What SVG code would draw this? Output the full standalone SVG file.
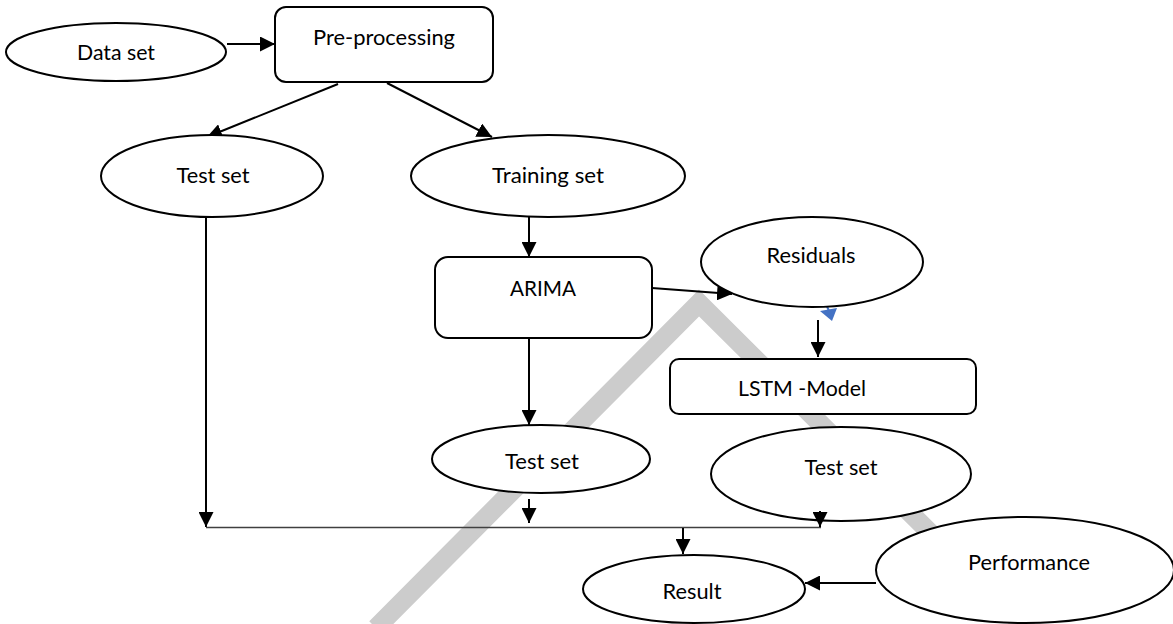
<svg xmlns="http://www.w3.org/2000/svg" width="1173" height="624" viewBox="0 0 1173 624">
<style>
.n{fill:#fff;stroke:#000;stroke-width:2}
.t{font-family:Lato,"Open Sans","Liberation Sans",sans-serif;font-size:22px;fill:#000;text-anchor:middle}
.c{stroke:#000;stroke-width:2;fill:none;marker-end:url(#ah)}
</style>
<defs>
<marker id="ah" markerUnits="userSpaceOnUse" markerWidth="15" markerHeight="15" refX="15" refY="7.5" orient="auto">
<path d="M0,0 L15,7.5 L0,15 z" fill="#000"/>
</marker>
</defs>
<rect width="1173" height="624" fill="#fff"/>
<g id="watermark">
<polyline points="376,628 699,303 1030,632" fill="none" stroke="#cccccc" stroke-width="19" stroke-linejoin="miter"/>
</g>
<g id="connectors">
<line class="c" x1="227" y1="44" x2="275" y2="44"/>
<line class="c" x1="338" y1="84" x2="207" y2="137"/>
<line class="c" x1="387" y1="83" x2="492" y2="137"/>
<line class="c" x1="529" y1="217" x2="529" y2="257"/>
<line class="c" x1="652" y1="288" x2="732" y2="294"/>
<line class="c" x1="818" y1="320" x2="818" y2="357"/>
<line class="c" x1="529" y1="338" x2="529" y2="425"/>
<line class="c" x1="206" y1="217" x2="206" y2="527"/>
<line class="c" x1="529" y1="499" x2="529" y2="523"/>
<line x1="206" y1="527.5" x2="821" y2="527.5" stroke="#404040" stroke-width="1.5"/>
<line class="c" x1="683" y1="528" x2="683" y2="554"/>
<line class="c" x1="876" y1="583" x2="805" y2="583"/>
<g id="blue-arrow">
<line x1="826" y1="304" x2="829" y2="311" stroke="#4472C4" stroke-width="2"/>
<polygon points="820,311 837,308 832,321" fill="#4472C4"/>
</g>
</g>
<g id="dataset"><ellipse class="n" cx="116" cy="52" rx="110" ry="29"/><text class="t" x="116" y="60" textLength="78" lengthAdjust="spacingAndGlyphs">Data set</text></g>
<g id="preprocessing"><rect class="n" x="275" y="7" width="218" height="75" rx="11"/><text class="t" x="384" y="45" textLength="142" lengthAdjust="spacingAndGlyphs">Pre-processing</text></g>
<g id="testset1"><ellipse class="n" cx="212" cy="176" rx="111" ry="41"/><text class="t" x="213" y="183" textLength="73" lengthAdjust="spacingAndGlyphs">Test set</text></g>
<g id="trainingset"><ellipse class="n" cx="548" cy="176" rx="137" ry="41"/><text class="t" x="548" y="183" textLength="112" lengthAdjust="spacingAndGlyphs">Training set</text></g>
<g id="arima"><rect class="n" x="435" y="257" width="217" height="81" rx="13"/><text class="t" x="543" y="296" textLength="66" lengthAdjust="spacingAndGlyphs">ARIMA</text></g>
<g id="residuals"><ellipse class="n" cx="812" cy="262" rx="111" ry="45"/><text class="t" x="811" y="263" textLength="89" lengthAdjust="spacingAndGlyphs">Residuals</text></g>
<g id="lstm"><rect class="n" x="670" y="359" width="306" height="55" rx="9"/><text class="t" x="802" y="396" textLength="128" lengthAdjust="spacingAndGlyphs">LSTM -Model</text></g>
<g id="testset2"><ellipse class="n" cx="541" cy="459" rx="109" ry="34"/><text class="t" x="542" y="469" textLength="74" lengthAdjust="spacingAndGlyphs">Test set</text></g>
<g id="testset3"><ellipse class="n" cx="841" cy="474" rx="130" ry="47"/><text class="t" x="841" y="475" textLength="73" lengthAdjust="spacingAndGlyphs">Test set</text></g>
<g id="testset3-arrow"><line class="c" x1="820" y1="511" x2="820" y2="527"/></g>
<g id="result"><ellipse class="n" cx="694" cy="589" rx="111" ry="34"/><text class="t" x="692" y="599" textLength="59" lengthAdjust="spacingAndGlyphs">Result</text></g>
<g id="performance"><ellipse class="n" cx="1025" cy="570" rx="149" ry="53"/><text class="t" x="1029" y="570" textLength="122" lengthAdjust="spacingAndGlyphs">Performance</text></g>
</svg>
